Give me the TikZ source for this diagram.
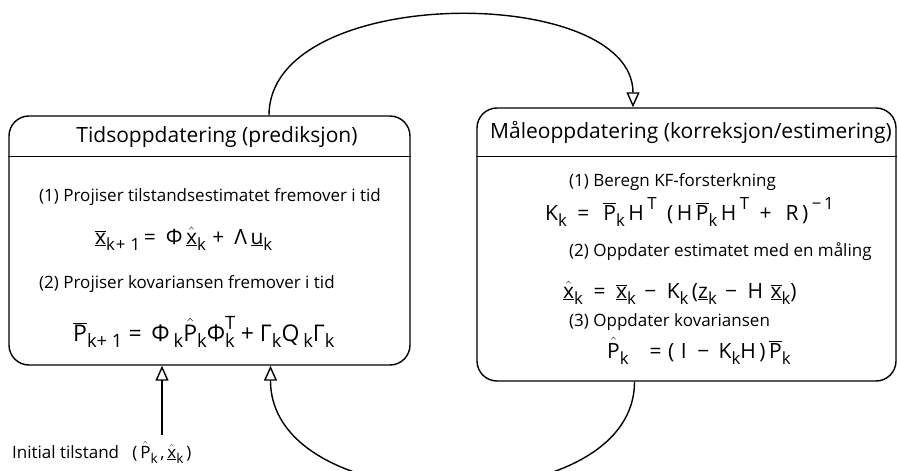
\documentclass[tikz,border=0pt]{standalone}
\usepackage{fontspec}
\setmainfont{Open Sans}
\usetikzlibrary{arrows.meta}
\newcommand{\ob}[1]{$\overline{\hbox{#1}}$}
\newcommand{\hb}[1]{$\hat{\hbox{#1}}$}
\newcommand{\xbar}{\ob{\underline{x}}}
\newcommand{\xhat}{\underline{\hb{x}}}
\newcommand{\Pbar}{\ob{P}}
\newcommand{\Phat}{\hb{P}}
\newcommand{\sbx}[1]{\raisebox{-0.3em}{\scalebox{0.8}{#1}}}
\newcommand{\spx}[1]{\raisebox{0.5em}{\scalebox{0.8}{#1}}}
\newcommand{\sbk}{\sbx{k}}
\newcommand{\gp}{\hspace{0.5em}}
\tikzset{
  box/.style={draw, line width=1.4pt, rounded corners=20pt, inner sep=0pt},
  conn/.style={line width=1.4pt, -{Triangle[open, length=15pt, width=13pt, line width=1.4pt]}},
  hdr/.style={font=\fontsize{21}{25}\selectfont, inner sep=0pt},
  txt/.style={font=\fontsize{17}{20}\selectfont, inner sep=0pt, anchor=base west},
  eq/.style={font=\fontsize{21}{25}\selectfont\addfontfeature{LetterSpace=5}, inner sep=0pt, anchor=base west},
}
\begin{document}
\begin{tikzpicture}[x=1pt, y=-1pt]
\useasboundingbox (0,0) rectangle (898,471);
% boxes
\node[box, minimum width=401pt, minimum height=249pt] (L) at (209.5,240.5) {};
\node[box, minimum width=419pt, minimum height=273pt] (R) at (686.5,244.5) {};
\draw[line width=1.4pt] ([yshift=-41pt]L.north west) -- ([yshift=-41pt]L.north east);
\draw[line width=1.4pt] ([yshift=-49pt]R.north west) -- ([yshift=-49pt]R.north east);
% left content
\node[hdr, anchor=base] (Lh) at (217,142) {Tidsoppdatering (prediksjon)};
\node[txt] (L1) at (39,201) {(1) Projiser tilstandsestimatet fremover i tid};
\node[eq] (Le1) at (95,244) {\xbar\sbx{k+ 1}\,=\ \,Φ\,\xhat\sbk\ +\ \,Λ\,\underline{u}\sbk};
\node[txt] (L2) at (39,288) {(2) Projiser kovariansen fremover i tid};
\node[eq, font=\fontsize{23}{27}\selectfont] (Le2) at (73,341) {\Pbar\sbx{k+ 1}\ =\ \,Φ\,\sbk\Phat\sbk Φ\rlap{\spx{T}}\sbk\ +\ Γ\sbk Q\,\sbk Γ\sbk};
% right content
\node[hdr, anchor=base] (Rh) at (691,138) {Måleoppdatering (korreksjon/estimering)};
\node[txt] (R1) at (569,186) {(1) Beregn KF-forsterkning};
\node[eq] (Re1) at (545,220) {K\sbk\gp=\gp\,\Pbar\sbk\,H\,\spx{T}\gp(\,H\,\Pbar\sbk\,H\,\spx{T}\gp+\gp\,R\,)\,\spx{−\,1}};
\node[txt] (R2) at (569,256) {(2) Oppdater estimatet med en måling};
\node[eq] (Re2) at (563,298) {\xhat\sbk\gp=\gp\xbar\sbk\hspace{0.4em}−\gp K\sbk\,(\underline{z}\sbk\hspace{0.4em}−\gp H\hspace{0.35em}\xbar\sbk)};
\node[txt] (R3) at (569,326) {(3) Oppdater kovariansen};
\node[eq] (Re3) at (607,358) {\Phat\sbk\hspace{1.0em}=\ (\ I\gp−\hspace{0.45em}K\sbk H\,)\,\Pbar\sbk};
% initial
\node[txt] (Init) at (12,458) {Initial tilstand\ \ \ (\,\Phat\sbk\,,\,\xhat\sbk\,)};
% connectors
\draw[conn] ([xshift=59.5pt]L.north) .. controls +(0,-132) and +(0,-124) .. ([xshift=-53.5pt]R.north);
\draw[conn] ([xshift=-52pt]R.south) .. controls +(0,142) and +(0,157) .. ([xshift=61pt]L.south);
\coordinate (i0) at (162,435);
\draw[conn] (i0) -- (i0 |- L.south);
\end{tikzpicture}
\end{document}
